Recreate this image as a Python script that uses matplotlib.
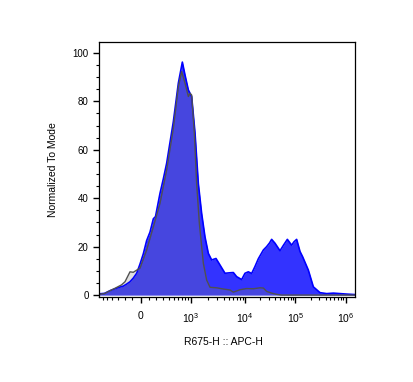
import numpy as np
import matplotlib
matplotlib.use('Agg')
import matplotlib.pyplot as plt
from matplotlib.ticker import MultipleLocator, FixedLocator, NullFormatter

plt.rcParams['font.family'] = ['Liberation Sans', 'DejaVu Sans']
plt.rcParams['mathtext.fontset'] = 'custom'
plt.rcParams['mathtext.rm'] = 'Liberation Sans'
plt.rcParams['mathtext.it'] = 'Liberation Sans'

# channel = logicle display units (decades, 0 = zero intensity)
blue_x = [-0.83, -0.72, -0.61, -0.51, -0.41, -0.344, -0.28, -0.21, -0.144, -0.076,
          -0.01, 0.056, 0.123, 0.19, 0.257, 0.30, 0.39, 0.457, 0.523, 0.59,
          0.657, 0.757, 0.837, 0.89, 0.957, 1.023, 1.09, 1.157, 1.223, 1.29,
          1.357, 1.423, 1.51, 1.59, 1.69, 1.79, 1.857, 1.923, 2.023, 2.09,
          2.157, 2.223, 2.29, 2.357, 2.457, 2.523, 2.58, 2.623, 2.69, 2.79,
          2.857, 2.937, 3.023, 3.07, 3.123, 3.19, 3.243, 3.357, 3.457, 3.59,
          3.723, 3.857, 3.99, 4.123, 4.29]
blue_y = [0.5, 0.7, 1.8, 2.6, 3.3, 3.7, 4.5, 5.5, 7.0, 9.0,
          12.8, 17.0, 22.5, 26.0, 31.5, 32.4, 42.0, 48.0, 54.4, 63.0,
          71.6, 87.5, 96.2, 90.9, 84.7, 82.0, 67.0, 46.0, 33.7, 24.0,
          17.2, 14.5, 15.1, 12.4, 9.0, 9.2, 9.3, 7.6, 6.4, 9.0,
          9.6, 8.9, 11.8, 15.0, 18.6, 20.0, 21.5, 23.0, 21.4, 18.3,
          20.5, 23.0, 20.6, 22.0, 23.0, 18.0, 15.8, 10.3, 3.4, 1.0,
          0.6, 0.8, 0.6, 0.4, 0.2]

gray_x = [-0.83, -0.72, -0.61, -0.51, -0.38, -0.31, -0.21, -0.144, -0.076, -0.01,
          0.123, 0.257, 0.39, 0.523, 0.657, 0.757, 0.823, 0.89, 0.957, 0.99,
          1.023, 1.077, 1.123, 1.177, 1.257, 1.323, 1.39, 1.523, 1.657, 1.79,
          1.857, 1.99, 2.123, 2.257, 2.39, 2.457, 2.523, 2.623, 2.723, 2.823,
          4.29]
gray_y = [0.3, 0.6, 1.8, 2.8, 4.2, 5.5, 9.6, 9.4, 10.3, 11.1,
          18.6, 28.2, 37.9, 51.7, 68.9, 86.0, 92.3, 87.5, 82.0, 83.3,
          82.6, 66.8, 46.0, 29.6, 13.1, 6.2, 3.2, 3.0, 2.5, 2.1,
          1.2, 2.2, 2.7, 2.6, 3.0, 2.9, 1.5, 0.8, 0.3, 0.0,
          0.0]

major_vals = [0, 1e3, 1e4, 1e5, 1e6]
major_labels = ['0', '$10^3$', '$10^4$', '$10^5$', '$10^6$']

# logicle transform
P = 2.3
K = 79.4


def logicle_inv(u):
    u = np.asarray(u, dtype=float)
    a = np.abs(u)
    g = 10 ** a - P ** 2 * 10 ** (-a / P) + P ** 2 - 1
    return np.sign(u) * K * g


grid_u = np.linspace(-6, 6, 40001)
grid_x = logicle_inv(grid_u)


def logicle(x):
    return np.interp(x, grid_x, grid_u)


minor_vals = [-100 * k for k in range(1, 8)]
for dec in [100, 1e3, 1e4, 1e5]:
    minor_vals += [dec * k for k in range(2 if dec > 100 else 1, 10)]

fig = plt.figure(figsize=(4.13, 3.82), dpi=100)
ax = fig.add_axes([99 / 413, 1 - 297 / 382, 256 / 413, 255 / 382])

ax.fill_between(blue_x, blue_y, 0, color='#3333ff', lw=0)
ax.plot(blue_x, blue_y, color='#0000ff', lw=1.2)
ax.fill_between(gray_x, gray_y, 0, color='#808080', alpha=0.25, lw=0)
ax.plot(gray_x, gray_y, color='#505050', lw=1.0)

ax.set_xlim(-0.83, 4.29)
ax.set_ylim(-0.8, 104.5)

ax.xaxis.set_major_locator(FixedLocator(logicle(major_vals)))
ax.set_xticklabels(major_labels)
ax.xaxis.set_minor_locator(FixedLocator(logicle(minor_vals)))
ax.xaxis.set_minor_formatter(NullFormatter())

ax.yaxis.set_major_locator(MultipleLocator(20))
ax.yaxis.set_minor_locator(MultipleLocator(5))

ax.tick_params(which='major', length=4.5, width=1, labelsize=7, pad=3)
ax.tick_params(which='minor', length=2.5, width=0.8)
ax.tick_params(axis='x', which='major', labelsize=7.5, pad=5.5)

for s in ax.spines.values():
    s.set_linewidth(0.9)

ax.set_xlabel('R675-H :: APC-H', fontsize=7.5, labelpad=9)
ax.xaxis.label.set_x(0.485)
ax.set_ylabel('Normalized To Mode', fontsize=7.5, labelpad=10.5)

fig.savefig('out.png', dpi=100)
